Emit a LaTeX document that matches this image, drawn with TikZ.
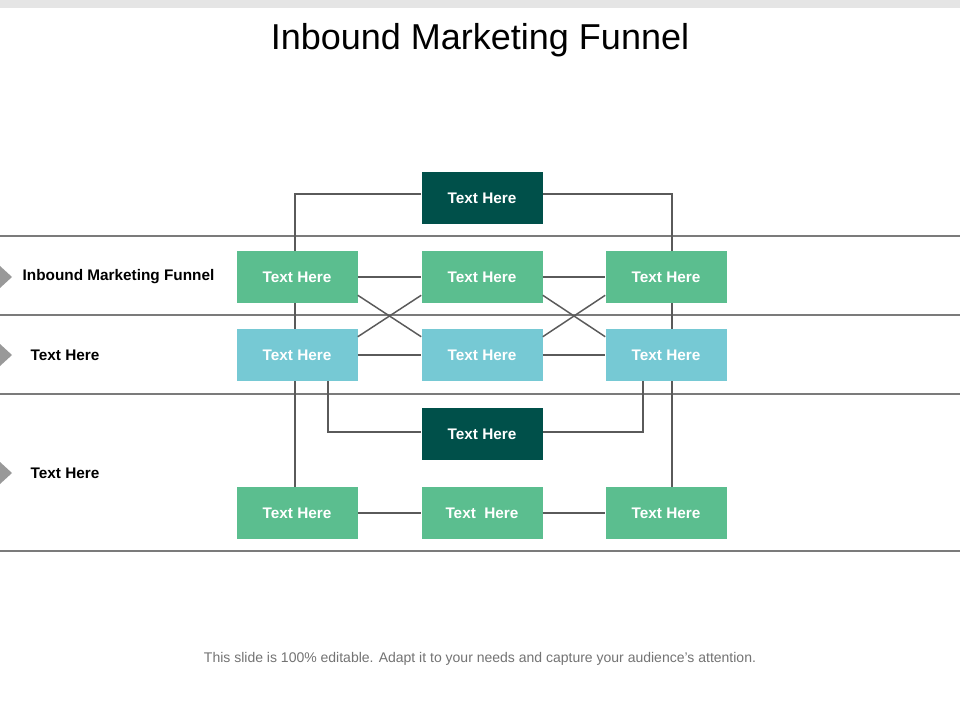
\documentclass[tikz,border=0pt]{standalone}
\usepackage{fontspec}
\setmainfont{Liberation Sans}
\definecolor{dk}{HTML}{00504A}
\definecolor{gr}{HTML}{5BBE8F}
\definecolor{bl}{HTML}{76C9D4}
\definecolor{ln}{HTML}{5A5A5A}
\begin{document}
\begin{tikzpicture}[x=0.75pt,y=-0.75pt,
  bx/.style={minimum width=121*0.75pt,minimum height=52*0.75pt,inner sep=0,text=white,font=\bfseries\fontsize{11.5}{12}\selectfont},
  cn/.style={draw=ln,line width=1.1pt},
  sep/.style={draw=ln!80,line width=0.8pt},
  lab/.style={anchor=west,font=\bfseries\fontsize{11.5}{12}\selectfont},
  tri/.style={fill=gray!80}]
\fill[white] (0,0) rectangle (960,720);
\useasboundingbox (0,0) rectangle (960,720);
\fill[gray!20] (0,0) rectangle (960,8);
\node[font=\fontsize{27}{30}\selectfont] (title) at (480,40) {Inbound Marketing Funnel};
\foreach \y in {236,315,394,551} \draw[sep] (0,\y) -- (960,\y);
% connectors (behind)
\coordinate (tl) at (295,194); \coordinate (tr) at (672,194);
\coordinate (bl) at (295,487); \coordinate (br) at (672,487);
\coordinate (ml) at (328,432); \coordinate (mr) at (643,432);
\coordinate (mlu) at (328,381); \coordinate (mru) at (643,381);
\node[bx,fill=dk] (t) at (482,198) {Text Here};
\node[bx,fill=gr] (a1) at (297,277) {Text Here};
\node[bx,fill=gr] (a2) at (482,277) {Text Here};
\node[bx,fill=gr] (a3) at (666,277) {Text Here};
\node[bx,fill=bl] (b1) at (297,355) {Text Here};
\node[bx,fill=bl] (b2) at (482,355) {Text Here};
\node[bx,fill=bl] (b3) at (666,355) {Text Here};
\node[bx,fill=dk] (m) at (482,434) {Text Here};
\node[bx,fill=gr] (c1) at (297,513) {Text Here};
\node[bx,fill=gr] (c2) at (482,513) {Text\ \ Here};
\node[bx,fill=gr] (c3) at (666,513) {Text Here};
\begin{scope}[on background layer/.style={}]
\end{scope}
\draw[cn] (t.west |- tl) -- (tl) -- (tl |- a1.north);
\draw[cn] (tl |- a1.south) -- (tl |- b1.north);
\draw[cn] (tl |- b1.south) -- (bl);
\draw[cn] (t.east |- tr) -- (tr) -- (tr |- a3.north);
\draw[cn] (tr |- a3.south) -- (tr |- b3.north);
\draw[cn] (tr |- b3.south) -- (br);
\draw[cn] (m.west |- ml) -- (ml) -- (mlu);
\draw[cn] (m.east |- mr) -- (mr) -- (mru);
\draw[cn] (a1) -- (a2); \draw[cn] (a2) -- (a3);
\draw[cn] (b1) -- (b2); \draw[cn] (b2) -- (b3);
\draw[cn] (c1) -- (c2); \draw[cn] (c2) -- (c3);
\draw[cn] (a1.south east) ++(0,-8) -- ([yshift=-8*0.75pt]b2.north west);
\draw[cn] (b1.north east) ++(0,8) -- ([yshift=8*0.75pt]a2.south west);
\draw[cn] (a2.south east) ++(0,-8) -- ([yshift=-8*0.75pt]b3.north west);
\draw[cn] (b2.north east) ++(0,8) -- ([yshift=8*0.75pt]a3.south west);
% left labels
\foreach \y/\n in {277/p1,355/p2,473/p3} \fill[tri] (0,\y-11) -- (12,\y) -- (0,\y+11);
\node[lab] (l1) at (18,277) {Inbound Marketing Funnel};
\node[lab] (l2) at (26,355) {Text Here};
\node[lab] (l3) at (26,473) {Text Here};
\node[font=\fontsize{10.5}{12}\selectfont,text=gray!90!black] (foot) at (480,659) {This slide is 100\% editable. Adapt it to your needs and capture your audience's attention.};
\end{tikzpicture}
\end{document}
